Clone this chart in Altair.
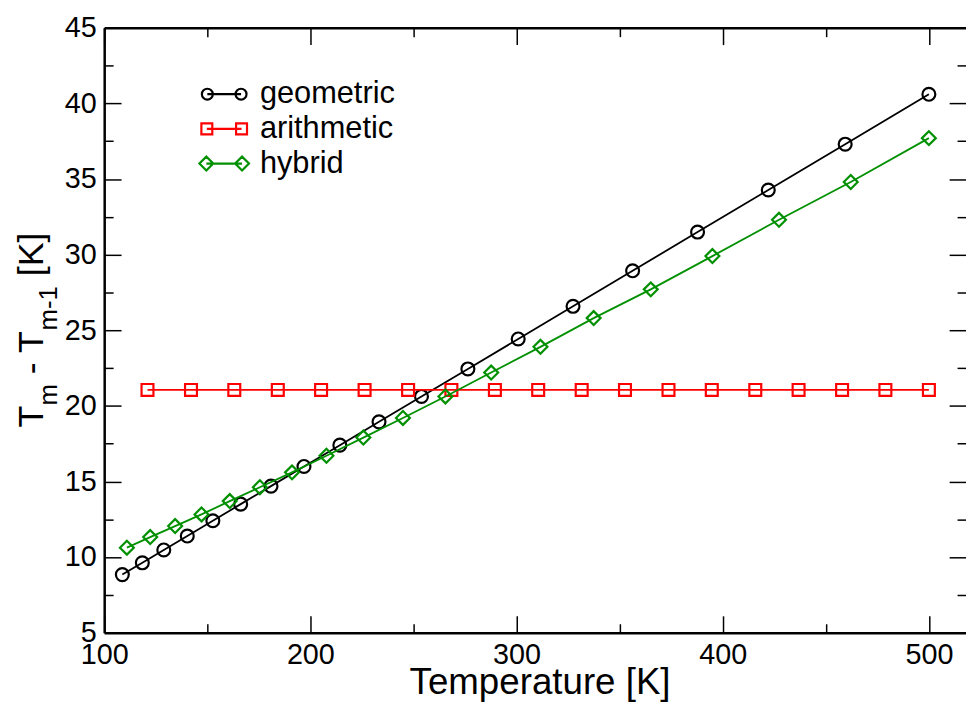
import altair as alt
import pandas as pd

FONT = "Liberation Sans"

# ---------------- data ----------------
series_names = ["geometric", "arithmetic", "hybrid"]
series_colors = ["#000000", "#ff0000", "#009000"]

geo_T = [108.8, 118.5, 128.9, 140.3, 152.7, 166.2, 180.9, 196.9, 214.3, 233.3,
         253.9, 276.4, 300.8, 327.4, 356.3, 387.8, 422.1, 459.4, 500.0]
geo_dT = [8.84, 9.62, 10.47, 11.39, 12.40, 13.50, 14.69, 15.99, 17.40, 18.94,
          20.62, 22.44, 24.42, 26.58, 28.93, 31.49, 34.27, 37.30, 40.60]

ari_T = [121.0, 142.1, 163.1, 184.2, 205.2, 226.3, 247.4, 268.4, 289.5, 310.5,
         331.6, 352.6, 373.7, 394.7, 415.8, 436.8, 457.9, 478.9, 500.0]
ari_dT = [21.05, 21.05, 21.05, 21.05, 21.05, 21.05, 21.05, 21.05, 21.05, 21.05,
          21.05, 21.05, 21.05, 21.05, 21.05, 21.05, 21.05, 21.05, 21.05]

hyb_T = [111.0, 122.3, 134.4, 147.2, 160.9, 175.5, 191.1, 207.8, 225.7, 244.9,
         265.5, 287.7, 311.6, 337.4, 365.1, 395.0, 427.3, 462.1, 500.0]
hyb_dT = [10.62, 11.32, 12.05, 12.82, 13.70, 14.62, 15.60, 16.70, 17.90, 19.20,
          20.62, 22.20, 23.90, 25.80, 27.70, 29.90, 32.30, 34.80, 37.70]

x_major = [100, 200, 300, 400, 500]
x_minor = [150, 250, 350, 450]
y_major = [5, 10, 15, 20, 25, 30, 35, 40, 45]
y_minor = [7.5, 12.5, 17.5, 22.5, 27.5, 32.5, 37.5, 42.5]

rows = []
for name, Ts, dTs in zip(series_names, [geo_T, ari_T, hyb_T], [geo_dT, ari_dT, hyb_dT]):
    for t, d in zip(Ts, dTs):
        rows.append({"series": name, "T": t, "dT": d})
df = pd.DataFrame(rows)

# ---------------- scales ----------------
xscale = alt.Scale(domain=[100, 518], nice=False, zero=False)
yscale = alt.Scale(domain=[5, 45], nice=False, zero=False)
color_scale = alt.Scale(domain=series_names, range=series_colors)

marker_shapes = ["circle", "square", "diamond"]
marker_sizes = [169, 144, 196]

# legend symbols: two markers joined by a line (custom paths, unit = 12 px)
legend_paths = [
    "M -1.875,0 A 0.458,0.458 0 1,0 -0.958,0 A 0.458,0.458 0 1,0 -1.875,0 Z "
    "M 0.958,0 A 0.458,0.458 0 1,0 1.875,0 A 0.458,0.458 0 1,0 0.958,0 Z "
    "M -1.417,0 L 1.417,0",
    "M -1.917,-0.458 L -1.0,-0.458 L -1.0,0.458 L -1.917,0.458 Z "
    "M 1.0,-0.458 L 1.917,-0.458 L 1.917,0.458 L 1.0,0.458 Z "
    "M -1.458,0 L 1.458,0",
    "M -2.083,0 L -1.5,-0.583 L -0.917,0 L -1.5,0.583 Z "
    "M 0.917,0 L 1.5,-0.583 L 2.083,0 L 1.5,0.583 Z "
    "M -1.5,0 L 1.5,0",
]


def ax(orient, values, labels=False, ticks=True, tick_size=0, offset=0, domain=False, **kw):
    return alt.Axis(orient=orient, values=values, labels=labels, ticks=ticks,
                    tickSize=tick_size, offset=offset, domain=domain, grid=False,
                    tickColor="black", tickWidth=1.5, domainColor="black",
                    domainWidth=2.5, labelFlush=False, **kw)


def guide(xaxis, yaxis):
    return alt.Chart(df).transform_filter("false").mark_point().encode(
        x=alt.X("T:Q", scale=xscale, axis=xaxis),
        y=alt.Y("dT:Q", scale=yscale, axis=yaxis),
    )


# main axes with labels and frame lines
main_axes = guide(
    ax("bottom", x_major, labels=True, ticks=False, domain=True,
       labelFont=FONT, labelFontSize=29, labelColor="black", labelPadding=8,
       title="Temperature [K]", titleFont=FONT, titleFontSize=37,
       titleFontWeight="normal", titleColor="black",
       titleBaseline="alphabetic", titleY=61, titleX=439),
    ax("left", y_major, labels=True, ticks=False, domain=True,
       labelFont=FONT, labelFontSize=29, labelColor="black", labelPadding=8,
       title=None),
)
top_frame = guide(ax("top", x_major, ticks=False, domain=True, title=None), None)

# inward ticks (major and minor) on all four sides
ticks_bl_major = guide(ax("bottom", x_major, tick_size=17, offset=-17, title=None),
                       ax("left", y_major, tick_size=17, offset=-17, title=None))
ticks_bl_minor = guide(ax("bottom", x_minor, tick_size=9, offset=-9, title=None),
                       ax("left", y_minor, tick_size=9, offset=-9, title=None))
ticks_tr_major = guide(ax("top", x_major, tick_size=17, offset=-17, title=None),
                       ax("right", y_major, tick_size=17, offset=-17, title=None))
ticks_tr_minor = guide(ax("top", x_minor, tick_size=9, offset=-9, title=None),
                       ax("right", y_minor, tick_size=9, offset=-9, title=None))

# data layers (one line + one marker layer per series)
data_layers = []
for name, col, shp, sz in zip(series_names, series_colors, marker_shapes, marker_sizes):
    base = alt.Chart(df).transform_filter(alt.datum.series == name)
    line = base.mark_line(strokeWidth=1.8, color=col).encode(
        x=alt.X("T:Q", scale=xscale, axis=None),
        y=alt.Y("dT:Q", scale=yscale, axis=None),
    )
    pts = base.mark_point(shape=shp, size=sz, filled=False, strokeWidth=2.2,
                          color=col, opacity=1).encode(
        x=alt.X("T:Q", scale=xscale, axis=None),
        y=alt.Y("dT:Q", scale=yscale, axis=None),
    )
    data_layers += [line, pts]

# legend layer (no marks drawn, only the legend)
legend_layer = alt.Chart(df).transform_filter("false").mark_point(
    filled=False, strokeWidth=2, opacity=1).encode(
    color=alt.Color("series:N", scale=color_scale, legend=alt.Legend(title=None)),
    shape=alt.Shape("series:N", scale=alt.Scale(domain=series_names, range=legend_paths),
                    legend=alt.Legend(title=None)),
)


# y-axis title with subscripts: T_m - T_{m-1} [K]
def title_piece(text, size, dx, dy):
    return alt.Chart(alt.Data(values=[{}])).mark_text(
        text=text, angle=270, align="left", baseline="alphabetic", font=FONT,
        fontSize=size, color="black", dx=dx, dy=dy,
    ).encode(x=alt.value(-62), y=alt.value(403))


title_layers = [
    title_piece("T", 36, 0, 0),
    title_piece("m", 26, 22.0, 14),
    title_piece("- T", 36, 53.7, 0),
    title_piece("m-1", 26, 97.7, 14),
    title_piece("[K]", 36, 152.5, 0),
]

chart = alt.layer(
    main_axes, top_frame, ticks_bl_major, ticks_bl_minor, ticks_tr_major, ticks_tr_minor,
    *data_layers, legend_layer, *title_layers,
).resolve_axis(
    x="independent", y="independent"
).properties(
    width=869, height=610,
    autosize=alt.AutoSizeParams(type="none"),
    padding={"left": 97, "top": 17, "right": 0, "bottom": 67},
    background="white",
).configure_view(
    stroke=None
).configure_legend(
    orient="none", legendX=105.5, legendY=51.5, padding=0,
    labelFont=FONT, labelFontSize=31, labelColor="black", labelOffset=20.5,
    rowPadding=3, symbolSize=576, symbolStrokeWidth=2.2, symbolOpacity=1,
)

chart.save("out.html", embed_options={"renderer": "svg", "actions": False})
